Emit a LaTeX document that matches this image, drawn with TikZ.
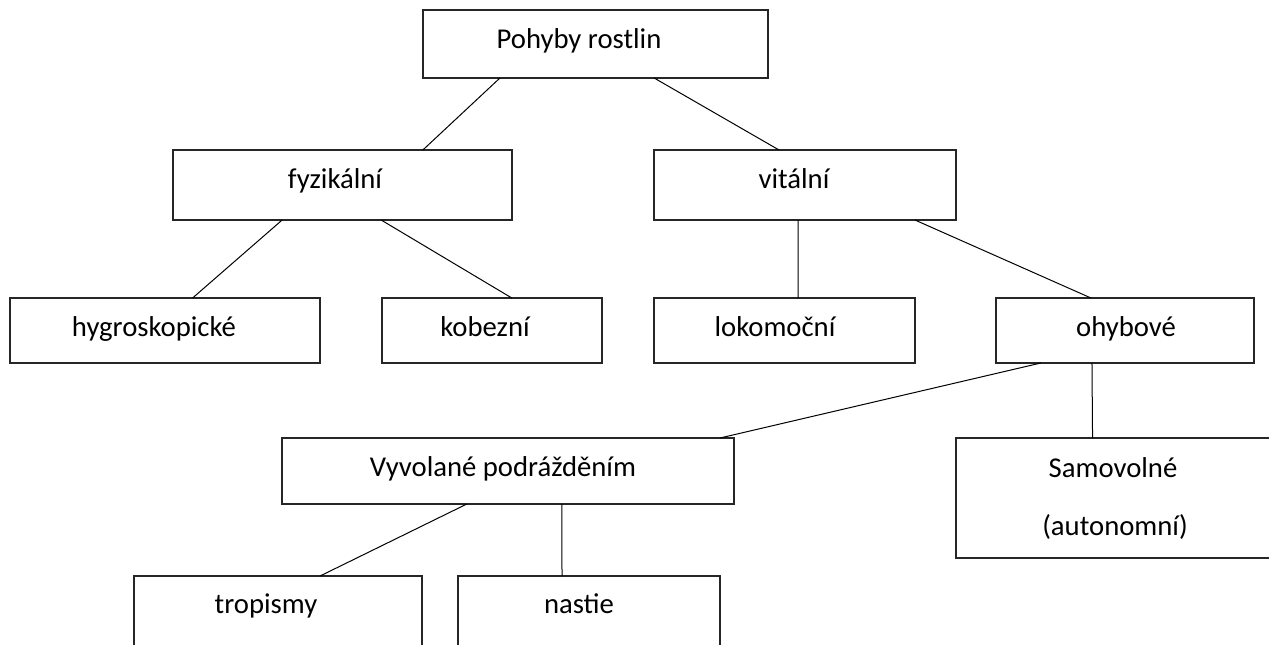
\documentclass[tikz,border=0pt]{standalone}
\usepackage{fontspec}
\setmainfont{Carlito}
\usetikzlibrary{calc}
\begin{document}
\begin{tikzpicture}[x=1pt,y=-1pt,
  box/.style={draw=black!85, line width=1.3pt, fill=white, inner sep=0pt, outer sep=0pt, rectangle},
  lbl/.style={anchor=base, inner sep=0pt, font=\fontsize{28.7}{34}\selectfont},
  conn/.style={draw=black, line width=1pt}]
\fill[white] (0,0) rectangle (1269,645);
\useasboundingbox (0,0) rectangle (1269,645);
\clip (0,0) rectangle (1269,645);
% boxes
\node[box, minimum width=345pt, minimum height=68pt] (p) at (595.5,44) {};
\node[box, minimum width=339pt, minimum height=70pt] (fyz) at (342.5,185) {};
\node[box, minimum width=302pt, minimum height=70pt] (vit) at (805,185) {};
\node[box, minimum width=310pt, minimum height=65pt] (hyg) at (165,330.5) {};
\node[box, minimum width=220pt, minimum height=65pt] (kob) at (492,330.5) {};
\node[box, minimum width=261pt, minimum height=65pt] (lok) at (784.5,330.5) {};
\node[box, minimum width=258pt, minimum height=65pt] (ohy) at (1125,330.5) {};
\node[box, minimum width=452pt, minimum height=66pt] (vyv) at (508,471) {};
\node[box, minimum width=338pt, minimum height=120pt] (sam) at (1125,498) {};
\node[box, minimum width=288pt, minimum height=100pt] (tro) at (278,626) {};
\node[box, minimum width=262pt, minimum height=100pt] (nas) at (589,626) {};
% texts
\node[lbl] (tp) at (579,48) {Pohyby rostlin};
\node[lbl] (tfyz) at (335,188) {fyzikální};
\node[lbl] (tvit) at (794,188) {vitální};
\node[lbl] (thyg) at (154,336.5) {hygroskopické};
\node[lbl] (tkob) at (485,336.5) {kobezní};
\node[lbl] (tlok) at (775,336.5) {lokomoční};
\node[lbl] (tohy) at (1126,336.5) {ohybové};
\node[lbl] (tvyv) at (503,476) {Vyvolané podrážděním};
\node[lbl] (tsam1) at (1113,477) {Samovolné};
\node[lbl] (tsam2) at (1115,535) {(autonomní)};
\node[lbl] (ttro) at (266,613) {tropismy};
\node[lbl] (tnas) at (579,613) {nastie};
% connectors
\draw[conn] ($(p.south west)!0.223!(p.south east)$) -- ($(fyz.north west)!0.737!(fyz.north east)$);
\draw[conn] ($(p.south west)!0.67!(p.south east)$) -- ($(vit.north west)!0.414!(vit.north east)$);
\draw[conn] ($(fyz.south west)!0.322!(fyz.south east)$) -- ($(hyg.north west)!0.589!(hyg.north east)$);
\draw[conn] ($(fyz.south west)!0.614!(fyz.south east)$) -- ($(kob.north west)!0.59!(kob.north east)$);
\draw[conn] ($(vit.south west)!0.477!(vit.south east)$) -- ($(lok.north west)!0.552!(lok.north east)$);
\draw[conn] ($(vit.south west)!0.864!(vit.south east)$) -- ($(ohy.north west)!0.368!(ohy.north east)$);
\draw[conn] ($(ohy.south west)!0.174!(ohy.south east)$) -- ($(vyv.north west)!0.969!(vyv.north east)$);
\draw[conn] ($(ohy.south west)!0.372!(ohy.south east)$) -- ($(sam.north west)!0.404!(sam.north east)$);
\draw[conn] ($(vyv.south west)!0.409!(vyv.south east)$) -- ($(tro.north west)!0.646!(tro.north east)$);
\draw[conn] ($(vyv.south west)!0.619!(vyv.south east)$) -- ($(nas.north west)!0.397!(nas.north east)$);
\end{tikzpicture}
\end{document}
